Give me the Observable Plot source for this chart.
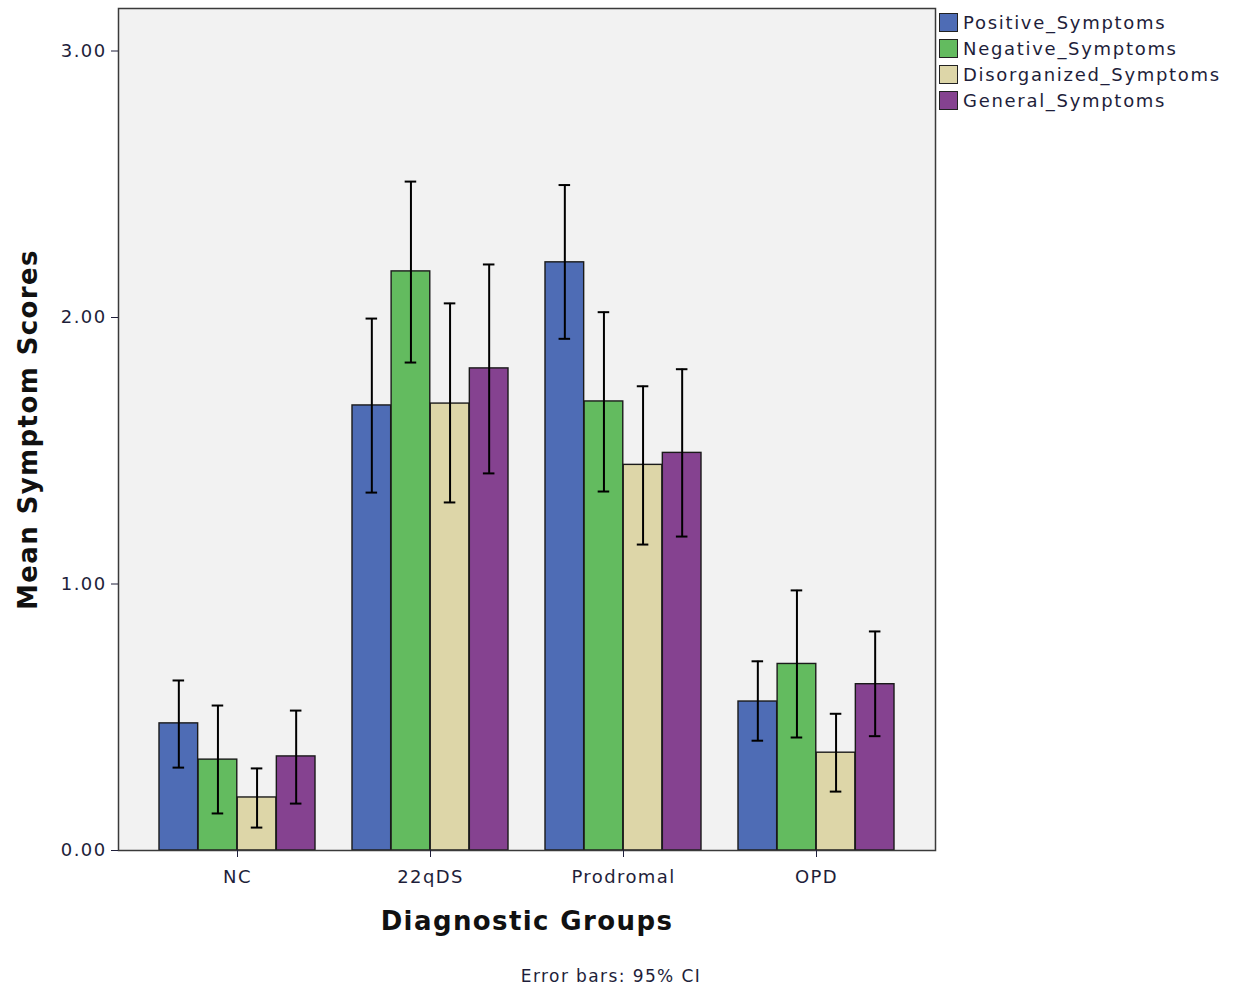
<!DOCTYPE html>
<html><head><meta charset="utf-8">
<script src="https://cdn.jsdelivr.net/npm/d3@7"></script>
<script src="https://cdn.jsdelivr.net/npm/@observablehq/plot@0.6"></script>
<style>
body{margin:0;background:#fff;}
#wrap{position:relative;width:1236px;height:992px;font-family:"DejaVu Sans",sans-serif;}
#legend{position:absolute;left:939px;top:9px;}
.row{display:flex;align-items:center;height:26px;}
.sw{width:19px;height:19px;border:1px solid #222;box-sizing:border-box;margin-right:5px;}
.lab{font-size:18px;letter-spacing:1.7px;color:#1e1e3a;white-space:nowrap;}
</style></head><body><div id="wrap"></div>
<script>
const groups = ["NC", "22qDS", "Prodromal", "OPD"];
const series = ["Positive_Symptoms", "Negative_Symptoms", "Disorganized_Symptoms", "General_Symptoms"];
const colors = ["#4e6cb5", "#63bb5f", "#ddd6a8", "#854290"];

const positiveMean = [0.477, 1.670, 2.207, 0.559];
const positiveLow  = [0.311, 1.343, 1.920, 0.412];
const positiveHigh = [0.638, 1.996, 2.497, 0.710];

const negativeMean = [0.341, 2.173, 1.685, 0.700];
const negativeLow  = [0.139, 1.831, 1.347, 0.424];
const negativeHigh = [0.544, 2.510, 2.020, 0.976];

const disorganizedMean = [0.199, 1.677, 1.447, 0.367];
const disorganizedLow  = [0.086, 1.306, 1.148, 0.221];
const disorganizedHigh = [0.308, 2.053, 1.742, 0.513];

const generalMean = [0.353, 1.809, 1.492, 0.624];
const generalLow  = [0.176, 1.415, 1.178, 0.429];
const generalHigh = [0.525, 2.199, 1.806, 0.822];

const yTicks = [0, 1, 2, 3];

const means = [positiveMean, negativeMean, disorganizedMean, generalMean];
const lows = [positiveLow, negativeLow, disorganizedLow, generalLow];
const highs = [positiveHigh, negativeHigh, disorganizedHigh, generalHigh];

const rows = [];
series.forEach((s, i) => groups.forEach((g, j) => rows.push({series: s, si: i, group: g, mean: means[i][j], lo: lows[i][j], hi: highs[i][j]})));

const W = 1236, H = 992;
const mL = 118, mR = 301, mT = 8, mB = 142;
const pIn = 0.19, pOut = 0.21;
const step = (W - mL - mR) / (groups.length - pIn + 2 * pOut);
const bw = step * (1 - pIn);
const sub = bw / series.length;
const capHalf = 6;

const marks = [Plot.frame({fill: "#f2f2f2", stroke: null})];
series.forEach((s, i) => {
  const d = rows.filter(r => r.si === i);
  marks.push(Plot.barY(d, {x: "group", y: "mean", fill: colors[i], stroke: "#1a1a1a", strokeWidth: 1.4,
    insetLeft: i * sub, insetRight: (series.length - 1 - i) * sub}));
});
series.forEach((s, i) => {
  const d = rows.filter(r => r.si === i);
  const dx = (i + 0.5) * sub - bw / 2;
  marks.push(Plot.ruleX(d, {x: "group", y1: "lo", y2: "hi", dx, stroke: "#000", strokeWidth: 2}));
  marks.push(Plot.tickY(d, {x: "group", y: "hi", dx, stroke: "#000", strokeWidth: 2, insetLeft: bw / 2 - capHalf, insetRight: bw / 2 - capHalf}));
  marks.push(Plot.tickY(d, {x: "group", y: "lo", dx, stroke: "#000", strokeWidth: 2, insetLeft: bw / 2 - capHalf, insetRight: bw / 2 - capHalf}));
});
marks.push(Plot.frame({stroke: "#3a3a3a", strokeWidth: 1.5}));
marks.push(Plot.axisY({ticks: yTicks, tickFormat: d3.format(".2f"), tickSize: 7, tickPadding: 5, label: null, fontSize: 18}));
marks.push(Plot.axisX({tickSize: 7, tickPadding: 13, label: null, fontSize: 18}));
marks.push(Plot.text(["Mean Symptom Scores"], {frameAnchor: "left", textAnchor: "middle", dx: -90, rotate: -90, fontSize: 26, fontWeight: "bold", fill: "#111"}));
marks.push(Plot.text(["Diagnostic Groups"], {frameAnchor: "bottom", dy: 79, fontSize: 26, fontWeight: "bold", fill: "#111"}));
marks.push(Plot.text(["Error bars: 95% CI"], {frameAnchor: "bottom", dy: 131, dx: 84, fontSize: 17, fill: "#1e1e3a"}));

const chart = Plot.plot({
  width: W, height: H,
  marginLeft: mL, marginRight: mR, marginTop: mT, marginBottom: mB,
  style: {fontFamily: "DejaVu Sans", color: "#1e1e3a", background: "#fff", letterSpacing: "1.4px"},
  x: {type: "band", domain: groups, paddingInner: pIn, paddingOuter: pOut, axis: null},
  y: {domain: [0, (850 - 8) / 266.5], axis: null},
  marks
});
const wrap = document.getElementById("wrap");
wrap.appendChild(chart);

const legend = document.createElement("div");
legend.id = "legend";
series.forEach((s, i) => {
  const r = document.createElement("div"); r.className = "row";
  const sw = document.createElement("div"); sw.className = "sw"; sw.style.background = colors[i];
  const l = document.createElement("span"); l.className = "lab"; l.textContent = s;
  r.appendChild(sw); r.appendChild(l); legend.appendChild(r);
});
wrap.appendChild(legend);
</script></body></html>
